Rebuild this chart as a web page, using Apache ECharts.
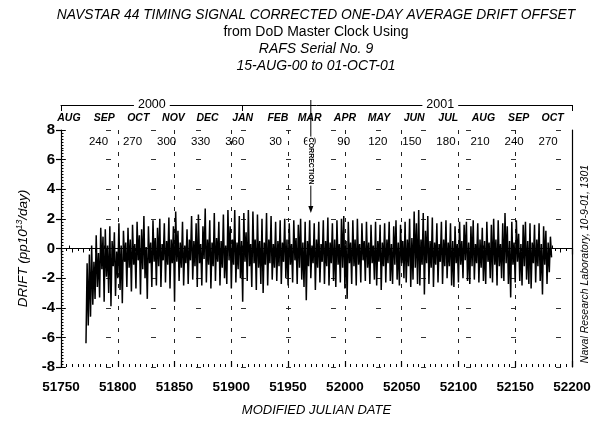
<!DOCTYPE html>
<html>
<head>
<meta charset="utf-8">
<script src="https://cdn.jsdelivr.net/npm/echarts@6/dist/echarts.min.js"></script>
<style>
  html, body { margin: 0; padding: 0; background: #fff; }
  #chart { width: 594px; height: 428px; }
</style>
</head>
<body>
<div id="chart"></div>
<script>
const FONT = '"Liberation Sans", Arial, Helvetica, sans-serif';

// Title block
const titleLines = [
  'NAVSTAR 44 TIMING SIGNAL CORRECTED ONE-DAY AVERAGE DRIFT OFFSET',
  'from DoD Master Clock Using',
  'RAFS Serial No. 9',
  '15-AUG-00 to 01-OCT-01'
];
const creditText = 'Naval Research Laboratory, 10-9-01, 1301';

// Calendar scale along the top edge
const monthNames = ['AUG', 'SEP', 'OCT', 'NOV', 'DEC', 'JAN', 'FEB', 'MAR', 'APR', 'MAY', 'JUN', 'JUL', 'AUG', 'SEP', 'OCT'];
const monthStartMJD = [51757, 51788, 51818, 51849, 51879, 51910, 51941, 51969, 52000, 52030, 52061, 52091, 52122, 52153, 52183];
const dayOfYearLabels = [240, 270, 300, 330, 360, 30, 60, 90, 120, 150, 180, 210, 240, 270];
const dayOfYearMJD = [51783, 51813, 51843, 51873, 51903, 51939, 51969, 51999, 52029, 52059, 52089, 52119, 52149, 52179];
const yearNames = ['2000', '2001'];
const yearLabelMJD = [51830, 52084];
const yearBoundMJD = [51750, 51910, 52200];

// Clock correction event
const correctionMJD = 51970;
const correctionTipValue = 2.4;

// One-day average drift, pp10^13/day, one value per day from MJD 51772
const driftStartMJD = 51772;
const driftValues = [
  -6.4, -1.0, -5.2, -0.4, -4.6, 0.2, -3.8, -0.9, -3.4, 0.9,
  -2.6, -0.3, -3.3, 1.4, -1.4, 0.8, -3.6, 1.3, -1.9, 0.2,
  -3.0, 1.5, -3.9, 0.5, -1.2, 1.1, -3.2, -0.2, -2.0, 1.7,
  -2.8, 0.2, -3.7, 1.2, -0.9, 0.4, -2.6, 1.4, -1.3, 0.6,
  -2.9, 1.6, -1.1, 0.3, -2.7, 1.8, -0.8, 0.9, -3.1, 1.3,
  -1.4, 2.2, -2.0, 0.1, -3.4, 1.5, -1.0, 0.4, -2.6, 1.9,
  -0.9, 0.7, -2.5, 1.4, -1.2, 2.0, -2.6, 0.3, -0.8, 1.7,
  -2.3, 0.5, -1.1, 2.1, -2.7, 0.6, -1.0, 1.5, -3.6, 2.5,
  -0.9, 1.2, -2.2, 0.4, -1.3, 1.8, -2.5, 0.2, -1.0, 1.3,
  -2.4, 0.6, -0.8, 2.2, -2.1, 0.5, -1.2, 1.7, -2.6, 2.3,
  -1.0, 0.3, -2.5, 1.5, -0.7, 2.7, -2.3, 0.6, -1.1, 1.9,
  -2.7, 0.4, -1.2, 2.4, -2.2, 0.7, -0.9, 1.8, -2.5, 0.5,
  -1.3, 2.3, -2.0, 0.2, -2.4, 2.6, -0.8, 1.5, -2.7, 0.6,
  -1.1, 2.6, -2.3, 0.4, -1.4, 2.2, -2.0, 0.5, -3.6, 2.4,
  -0.9, 1.1, -2.2, 2.6, -1.2, 0.3, -2.6, 2.5, -1.0, 0.6,
  -2.8, 2.3, -1.3, 0.5, -2.4, 2.0, -3.0, 0.4, -1.1, 2.4,
  -2.5, 0.6, -1.0, 2.2, -2.1, 0.3, -1.3, 1.8, -2.2, 0.5,
  -1.2, 1.9, -2.4, 0.4, -0.9, 2.0, -2.0, 0.6, -2.5, 1.7,
  -1.1, 0.3, -2.3, 1.9, -0.8, 0.7, -2.4, 1.6, -1.3, 2.0,
  -2.1, 0.4, -2.6, 1.8, -3.5, 0.5, -1.2, 1.9, -2.0, 0.2,
  -1.0, 1.7, -2.8, 0.6, -1.3, 1.8, -2.3, 0.3, -0.9, 1.9,
  -2.4, 0.5, -1.2, 2.1, -2.5, 0.4, -1.0, 1.7, -2.2, 0.6,
  -2.6, 1.9, -1.1, 0.3, -2.3, 2.0, -1.3, 2.2, -2.7, 0.5,
  -3.4, 1.8, -1.0, 0.4, -2.4, 1.9, -1.2, 0.6, -2.5, 2.0,
  -1.1, 0.3, -2.3, 1.7, -0.8, 0.5, -2.2, 1.8, -1.3, 0.4,
  -2.4, 1.6, -1.0, 0.2, -2.1, 1.8, -2.5, 0.5, -0.9, 1.6,
  -2.8, 0.4, -1.2, 1.7, -2.3, 0.6, -1.0, 1.8, -2.2, 0.3,
  -2.4, 1.5, -1.1, 1.9, -2.1, 0.4, -2.5, 1.6, -1.0, 0.5,
  -2.0, 1.8, -2.3, 0.6, -1.2, 2.0, -2.6, 0.7, -2.1, 2.5,
  -1.3, 1.7, -2.4, 2.6, -2.5, 0.6, -1.1, 2.4, -3.1, 1.2,
  -1.0, 2.2, -2.4, 0.5, -1.3, 2.1, -2.6, 0.4, -1.1, 1.7,
  -2.3, 0.3, -0.9, 1.8, -2.4, 0.6, -1.2, 1.9, -2.0, 0.4,
  -1.2, 1.7, -2.5, 0.5, -2.6, 1.5, -1.0, 0.3, -2.3, 1.8,
  -1.1, 0.5, -2.0, 1.6, -0.8, 1.8, -2.2, 0.4, -2.4, 1.5,
  -1.2, 1.9, -2.1, 0.3, -1.0, 1.7, -2.3, 0.6, -1.3, 1.4,
  -2.2, 0.5, -2.4, 1.8, -0.9, 0.4, -2.0, 1.6, -2.3, 2.0,
  -1.1, 0.6, -2.5, 1.9, -1.2, 0.3, -2.0, 1.7, -2.2, 2.4,
  -1.0, 1.5, -2.4, 0.5, -3.3, 1.8, -1.1, 0.4, -2.3, 1.9,
  -0.9, 1.0, -2.2, 0.3, -2.5, 1.6, -1.2, 1.8, -2.1, 0.5,
  -2.4, 1.7, -2.7, 0.4, -1.0, 1.6, -2.3, 0.6, -1.2, 1.7,
  -2.2, 0.3, -3.1, 1.5, -1.1, 1.2, -2.4, 0.4, -1.6, 0.8, -0.6
];

const driftData = driftValues.map((v, i) => [driftStartMJD + i, v]);

const chart = echarts.init(document.getElementById('chart'), null, { renderer: 'canvas' });

const black = '#000';
const noSplit = { show: false };

const option = {
  animation: false,
  backgroundColor: '#fff',
  textStyle: { fontFamily: FONT, color: black },
  grid: { left: 61, right: 22, top: 130, bottom: 61, containLabel: false },
  xAxis: [
    { // bottom MJD scale with labels
      type: 'value', position: 'bottom', min: 51750, max: 52200, interval: 50,
      axisLine: { show: true, lineStyle: { color: black, width: 1.2 } },
      axisTick: { show: true, length: 6, lineStyle: { color: black, width: 1.2 } },
      axisLabel: { color: black, fontFamily: FONT, fontSize: 13.5, fontWeight: 'bold', margin: 13, formatter: v => String(v) },
      splitLine: { show: true, lineStyle: { color: '#222', width: 1, type: [4, 7] } },
      name: 'MODIFIED JULIAN DATE', nameLocation: 'middle', nameGap: 37,
      nameTextStyle: { fontFamily: FONT, fontSize: 13, fontStyle: 'italic', color: black }
    },
    { // month names along the top edge
      type: 'value', position: 'top', min: 51750, max: 52200,
      axisLine: { show: true, lineStyle: { color: black, width: 1.2 } },
      axisTick: { show: true, customValues: monthStartMJD, length: 3, lineStyle: { color: black } },
      axisLabel: {
        show: true, customValues: monthStartMJD, margin: 6, color: black,
        fontFamily: FONT, fontSize: 10.5, fontStyle: 'italic', fontWeight: 'bold',
        formatter: v => monthNames[monthStartMJD.indexOf(v)] || ''
      },
      splitLine: noSplit
    },
    { // day-of-year scale inside the top edge
      type: 'value', position: 'top', min: 51750, max: 52200, interval: 10,
      axisLine: { show: false },
      axisTick: { show: true, inside: true, length: 4, lineStyle: { color: black } },
      minorTick: { show: true, splitNumber: 2, length: 2.5, lineStyle: { color: black } },
      axisLabel: {
        show: true, inside: true, customValues: dayOfYearMJD, margin: 6, color: black,
        fontFamily: FONT, fontSize: 11.5,
        formatter: v => String(dayOfYearLabels[dayOfYearMJD.indexOf(v)] ?? '')
      },
      splitLine: noSplit
    },
    { // inner ticks on the bottom edge
      type: 'value', position: 'bottom', min: 51750, max: 52200, interval: 50,
      axisLine: { show: false },
      axisTick: { show: true, inside: true, length: 6, lineStyle: { color: black, width: 1.2 } },
      minorTick: { show: true, splitNumber: 10, length: 3, lineStyle: { color: black } },
      axisLabel: { show: false },
      splitLine: noSplit
    },
    { // year bracket above the month names
      type: 'value', position: 'top', offset: 25, min: 51750, max: 52200,
      axisLine: { show: true, lineStyle: { color: black, width: 1 } },
      axisTick: { show: true, inside: true, customValues: yearBoundMJD, length: 6, lineStyle: { color: black } },
      axisLabel: {
        show: true, customValues: yearLabelMJD, margin: -6, color: black,
        fontFamily: FONT, fontSize: 12.5, backgroundColor: '#fff', padding: [0, 4],
        formatter: v => yearNames[yearLabelMJD.indexOf(v)] || ''
      },
      splitLine: noSplit
    }
  ],
  yAxis: [
    {
      type: 'value', position: 'left', min: -8, max: 8, interval: 2,
      axisLine: { show: true, lineStyle: { color: black, width: 1.2 } },
      axisTick: { show: true, length: 5, lineStyle: { color: black, width: 1.2 } },
      axisLabel: { color: black, fontFamily: FONT, fontSize: 15, fontWeight: 'bold', margin: 6 },
      splitLine: { show: true, lineStyle: { color: '#333', width: 1, type: [5, 40] } },
      name: '{a|DRIFT (pp10}{s|13}{a|/day)}',
      nameLocation: 'middle', nameRotate: 90, nameGap: 30,
      nameTextStyle: {
        rich: {
          a: { fontFamily: FONT, fontSize: 13.5, fontStyle: 'italic', color: black, lineHeight: 16 },
          s: { fontFamily: FONT, fontSize: 8.5, fontStyle: 'italic', color: black, verticalAlign: 'top', lineHeight: 16 }
        }
      }
    },
    { // dense inner ticks on the left edge
      type: 'value', position: 'left', min: -8, max: 8, interval: 2,
      axisLine: { show: false },
      axisTick: { show: true, inside: true, length: 4, lineStyle: { color: black } },
      minorTick: { show: true, splitNumber: 10, length: 2.5, lineStyle: { color: black } },
      axisLabel: { show: false },
      splitLine: noSplit
    },
    { // right frame edge
      type: 'value', position: 'right', min: -8, max: 8, interval: 2,
      axisLine: { show: true, lineStyle: { color: black, width: 1.2 } },
      axisTick: { show: false },
      axisLabel: { show: false },
      splitLine: noSplit
    }
  ],
  series: [{
    type: 'line',
    xAxisIndex: 0,
    yAxisIndex: 0,
    data: driftData,
    showSymbol: false,
    symbol: 'none',
    sampling: 'none',
    lineStyle: { color: black, width: 1.5 },
    z: 3
  }]
};

chart.setOption(option);

// Annotations positioned through the chart's own coordinate system
const toPx = p => chart.convertToPixel({ xAxisIndex: 0, yAxisIndex: 0 }, p);
const tip = toPx([correctionMJD, correctionTipValue]);
const top8 = toPx([correctionMJD, 8]);
const textMid = toPx([correctionMJD, 5.9]);
const graphics = [];

titleLines.forEach((t, i) => {
  graphics.push({
    type: 'text', z: 10,
    style: {
      text: t, x: 316, y: 15 + i * 17, align: 'center', verticalAlign: 'middle',
      font: (i === 1 ? '' : 'italic ') + (i === 0 ? '13.8px ' : '14px ') + FONT,
      fill: black
    }
  });
});

graphics.push({
  type: 'text', z: 10,
  x: 585, y: 264, rotation: Math.PI / 2,
  style: { text: creditText, x: 0, y: 0, align: 'center', verticalAlign: 'middle', font: 'italic 10.5px ' + FONT, fill: black }
});

// correction arrow running down from the year bracket
graphics.push({
  type: 'line', z: 9,
  shape: { x1: tip[0], y1: top8[1] - 30, x2: tip[0], y2: tip[1] - 4 },
  style: { stroke: black, lineWidth: 1 }
});
graphics.push({
  type: 'polygon', z: 9,
  shape: { points: [[tip[0] - 2.5, tip[1] - 7], [tip[0] + 2.5, tip[1] - 7], [tip[0], tip[1]]] },
  style: { fill: black }
});
graphics.push({
  type: 'text', z: 11,
  x: textMid[0], y: textMid[1], rotation: -Math.PI / 2,
  style: {
    text: 'CORRECTION', x: 0, y: 0, align: 'center', verticalAlign: 'middle',
    font: 'bold 7px ' + FONT, fill: black, backgroundColor: '#fff', padding: [0, 1]
  }
});

chart.setOption({ graphic: graphics });
</script>
</body>
</html>
